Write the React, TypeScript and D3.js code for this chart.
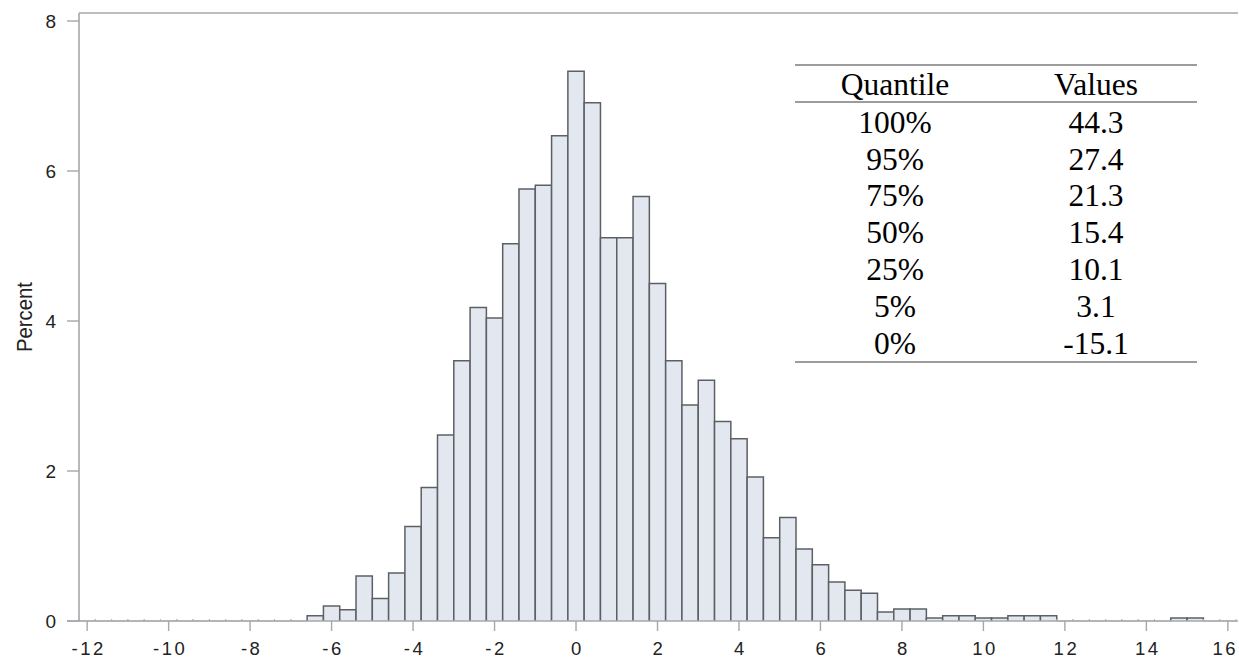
import React from 'react';
import * as d3 from 'd3';

// Histogram: bins of width 0.4, first bin starts at -12.2 (centres -12, -11.6, ... 16)
const binStart = -12.2;
const binWidth = 0.4;
const percents: number[] = [
  0, 0, 0, 0, 0, 0, 0, 0, 0, 0, 0, 0, 0, 0, // -12.0 .. -6.8
  0.07, 0.2, 0.15, 0.6, 0.3, 0.64, // -6.4 .. -4.4
  1.26, 1.78, 2.48, 3.47, 4.18, 4.04, // -4.0 .. -2.0
  5.03, 5.76, 5.81, 6.47, 7.33, 6.91, // -1.6 .. 0.4
  5.11, 5.11, 5.66, 4.5, 3.47, 2.88, // 0.8 .. 2.8
  3.21, 2.66, 2.43, 1.92, 1.11, 1.38, // 3.2 .. 5.2
  0.96, 0.75, 0.52, 0.41, 0.37, 0.12, // 5.6 .. 7.6
  0.16, 0.16, 0.04, 0.07, 0.07, 0.04, // 8.0 .. 10.0
  0.04, 0.07, 0.07, 0.07, // 10.4 .. 11.6
  0, 0, 0, 0, 0, 0, 0, // 12.0 .. 14.4
  0.04, 0.04, 0, 0, // 14.8 .. 16.0
];

const xTicks = [-12, -10, -8, -6, -4, -2, 0, 2, 4, 6, 8, 10, 12, 14, 16];
const yTicks = [0, 2, 4, 6, 8];
const yLabel = 'Percent';

const tableHeader = ['Quantile', 'Values'];
const quantileLabels = ['100%', '95%', '75%', '50%', '25%', '5%', '0%'];
const quantileValues = ['44.3', '27.4', '21.3', '15.4', '10.1', '3.1', '-15.1'];

export default function App() {
  const W = 1239;
  const H = 659;
  const left = 79;
  const right = 1236;
  const bottom = 621;
  const top = 13;

  const x = d3.scaleLinear().domain([-12.2, 16.2]).range([left, right]);
  const y = d3.scaleLinear().domain([0, 8.107]).range([bottom, top]);

  const axisColor = '#a4a7ab';
  const barStroke = '#5c6065';
  const barFill = '#e2e7f0';
  const sans = '"Liberation Sans", Arial, sans-serif';
  const serif = '"Liberation Serif", "Times New Roman", serif';

  const bars = percents.map((p, i) => {
    const x0 = x(binStart + i * binWidth);
    const x1 = x(binStart + (i + 1) * binWidth);
    const yt = y(p);
    return { x0, x1, yt, p };
  });

  // table geometry
  const tLeft = 795;
  const tRight = 1197;
  const col1 = 895;
  const col2 = 1096;
  const rowY = d3.scaleLinear().domain([0, 1]).range([132.7, 169.5]);

  const lastTick = xTicks[xTicks.length - 1];

  return (
    <svg
      width={W}
      height={H}
      style={{ position: 'absolute', left: 0, top: 0, background: '#fff' }}
    >
      <rect x={0} y={0} width={W} height={H} fill="#fff" />

      {/* bars */}
      {bars.map((b, i) =>
        b.p > 0 ? (
          <path
            key={i}
            d={`M${b.x0},${bottom}V${b.yt}H${b.x1}V${bottom}`}
            fill={barFill}
            stroke={barStroke}
            strokeWidth={1.5}
          />
        ) : (
          <path
            key={i}
            d={`M${b.x0},${bottom - 2}V${bottom}H${b.x1}V${bottom - 2}`}
            fill="none"
            stroke="#b4b7bb"
            strokeWidth={1}
          />
        )
      )}

      {/* frame */}
      <line x1={left} x2={right + 2} y1={top} y2={top} stroke={axisColor} strokeWidth={1.6} />
      <line x1={left} x2={left} y1={top} y2={bottom} stroke={axisColor} strokeWidth={1.6} />
      <line x1={left - 12} x2={right + 2} y1={bottom} y2={bottom} stroke={axisColor} strokeWidth={1.6} />

      {/* y ticks */}
      {yTicks.map((t) => (
        <g key={t}>
          <line x1={left - 12} x2={left} y1={y(t)} y2={y(t)} stroke={axisColor} strokeWidth={1.4} />
          <text
            x={56}
            y={y(t)}
            dy="0.36em"
            textAnchor="end"
            fontFamily={sans}
            fontSize={19}
            fill="#222"
          >
            {t}
          </text>
        </g>
      ))}

      {/* x ticks */}
      {xTicks.map((t) => (
        <g key={t}>
          <line x1={x(t)} x2={x(t)} y1={bottom} y2={bottom + 10} stroke={axisColor} strokeWidth={1.4} />
          <text
            x={t === lastTick ? W - 1 : x(t) + 1.5}
            y={655}
            textAnchor={t === lastTick ? 'end' : 'middle'}
            fontFamily={sans}
            fontSize={18.5}
            letterSpacing={2.5}
            fill="#222"
          >
            {t}
          </text>
        </g>
      ))}

      {/* y label */}
      <text
        transform={`translate(32,${317}) rotate(-90)`}
        textAnchor="middle"
        fontFamily={sans}
        fontSize={22}
        textLength={70}
        lengthAdjust="spacingAndGlyphs"
        fill="#222"
      >
        {yLabel}
      </text>

      {/* quantile table */}
      <line x1={tLeft} x2={tRight} y1={65} y2={65} stroke="#9c9c9c" strokeWidth={2} />
      <line x1={tLeft} x2={tRight} y1={102} y2={102} stroke="#9c9c9c" strokeWidth={2} />
      <line x1={tLeft} x2={tRight} y1={362} y2={362} stroke="#9c9c9c" strokeWidth={2} />
      <text x={col1} y={95} textAnchor="middle" fontFamily={serif} fontSize={31.5} fill="#000">
        {tableHeader[0]}
      </text>
      <text x={col2} y={95} textAnchor="middle" fontFamily={serif} fontSize={31.5} fill="#000">
        {tableHeader[1]}
      </text>
      {quantileLabels.map((q, i) => (
        <g key={q}>
          <text x={col1} y={rowY(i)} textAnchor="middle" fontFamily={serif} fontSize={31.5} fill="#000">
            {q}
          </text>
          <text x={col2} y={rowY(i)} textAnchor="middle" fontFamily={serif} fontSize={31.5} fill="#000">
            {quantileValues[i]}
          </text>
        </g>
      ))}
    </svg>
  );
}
